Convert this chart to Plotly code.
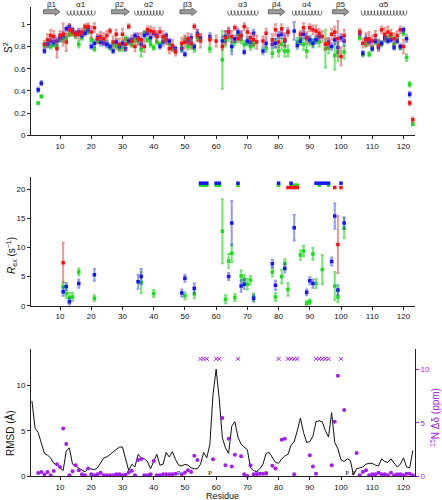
import plotly.graph_objects as go
import numpy as np

# ---------------- data ----------------
tick_res = [10, 20, 30, 40, 50, 60, 70, 80, 90, 100, 110, 120]

# S2 (red / blue / green)
red_s2_res = [5,6,7,8,9,10,11,12,13,14,15,16,17,18,19,20,21,22,23,24,25,26,27,28,29,30,31,32,33,34,35,36,37,38,39,40,41,42,43,44,45,46,47,49,50,51,52,53,54,55,58,60,62,63,64,65,66,67,68,69,70,71,72,73,75,76,78,79,80,81,82,83,87,88,89,90,91,92,93,94,95,96,97,98,99,100,101,106,107,108,109,110,111,112,113,114,115,116,117,118,119,120,122,123]
red_s2 = [0.82,0.86,0.90,0.89,0.78,0.90,0.91,0.84,0.95,0.93,0.91,0.91,0.93,0.98,0.98,0.93,0.97,0.87,0.89,0.87,0.90,0.94,0.84,0.91,0.82,0.91,0.82,0.98,0.85,0.80,0.87,0.86,0.80,0.95,0.94,0.93,0.89,0.93,0.89,0.86,0.78,0.81,0.75,0.83,0.84,0.87,0.83,0.98,0.90,0.85,0.86,0.85,0.80,0.88,0.93,0.89,0.97,0.87,0.90,0.98,0.93,0.88,0.86,0.84,0.85,0.92,0.86,0.95,0.84,0.96,0.86,0.93,0.91,0.97,0.88,0.97,0.95,0.94,0.92,0.89,0.82,0.83,0.91,0.93,0.87,0.71,0.90,0.93,0.83,0.86,0.87,0.85,0.90,0.81,0.95,0.91,0.93,0.91,0.87,0.90,0.95,0.80,0.29,0.14]
red_s2_err = [0.03,0.05,0.05,0.05,0.08,0.04,0.10,0.08,0.05,0.03,0.03,0.04,0.03,0.02,0.03,0.05,0.04,0.04,0.04,0.05,0.04,0.02,0.05,0.04,0.05,0.05,0.05,0.02,0.05,0.04,0.05,0.06,0.05,0.03,0.04,0.04,0.05,0.04,0.05,0.04,0.04,0.05,0.03,0.05,0.06,0.05,0.05,0.02,0.05,0.06,0.03,0.05,0.03,0.06,0.03,0.05,0.02,0.03,0.04,0.03,0.04,0.04,0.05,0.06,0.04,0.04,0.05,0.05,0.05,0.04,0.06,0.04,0.03,0.04,0.05,0.03,0.04,0.05,0.04,0.05,0.05,0.05,0.05,0.05,0.16,0.08,0.05,0.03,0.04,0.06,0.06,0.05,0.04,0.05,0.03,0.06,0.05,0.04,0.05,0.04,0.03,0.06,0.02,0.02]

blue_s2_res = [3,4,5,6,7,8,9,10,11,12,13,14,15,16,17,18,19,20,21,22,23,24,25,26,27,28,29,30,31,32,33,34,35,36,37,38,39,40,41,42,43,44,45,46,47,49,50,51,52,53,54,55,58,62,63,64,65,66,67,68,69,70,71,72,75,76,78,79,80,81,82,83,85,86,87,88,89,90,91,92,93,96,97,98,99,100,101,106,107,108,109,110,111,112,113,114,115,116,117,118,119,120,121,122]
blue_s2 = [0.41,0.47,0.76,0.82,0.85,0.84,0.85,0.88,0.90,0.96,0.98,0.95,0.92,0.93,0.90,0.92,0.95,0.80,0.83,0.88,0.84,0.83,0.82,0.80,0.76,0.84,0.80,0.83,0.78,0.85,0.86,0.90,0.88,0.82,0.90,0.92,0.88,0.92,0.90,0.80,0.84,0.90,0.85,0.80,0.78,0.78,0.73,0.85,0.88,0.80,0.92,0.88,0.89,0.85,0.89,0.93,0.80,0.87,0.93,0.90,0.75,0.85,0.84,0.92,0.76,0.83,0.82,0.83,0.90,0.91,0.85,0.93,0.94,0.81,0.85,0.91,0.88,0.86,0.83,0.86,0.89,0.84,0.80,0.86,0.79,0.88,0.85,0.92,0.74,0.87,0.84,0.78,0.85,0.79,0.83,0.88,0.85,0.86,0.79,0.85,0.80,0.95,0.87,0.37]
blue_s2_err = [0.02,0.02,0.02,0.03,0.03,0.03,0.03,0.03,0.03,0.02,0.02,0.02,0.02,0.03,0.02,0.02,0.02,0.02,0.03,0.02,0.03,0.02,0.03,0.02,0.02,0.02,0.02,0.02,0.02,0.03,0.02,0.02,0.03,0.03,0.03,0.02,0.03,0.02,0.02,0.02,0.03,0.02,0.02,0.02,0.02,0.03,0.02,0.03,0.03,0.02,0.03,0.03,0.03,0.04,0.05,0.04,0.07,0.03,0.03,0.03,0.02,0.03,0.03,0.03,0.03,0.03,0.03,0.04,0.03,0.03,0.05,0.02,0.08,0.03,0.03,0.03,0.03,0.03,0.03,0.03,0.03,0.03,0.03,0.04,0.05,0.03,0.04,0.02,0.02,0.03,0.02,0.02,0.02,0.02,0.02,0.02,0.02,0.02,0.02,0.02,0.02,0.02,0.03,0.02]

green_s2_res = [3,4,5,6,7,8,9,10,11,12,13,14,15,16,17,18,19,20,21,22,23,24,25,26,27,28,29,30,31,32,33,34,35,36,37,38,39,40,41,42,43,44,45,46,49,50,51,52,53,54,58,62,63,64,65,66,67,68,69,70,71,72,76,78,79,80,81,82,83,86,87,88,89,90,91,92,93,95,96,98,99,101,106,107,108,109,110,111,112,113,114,115,116,117,118,119,120,121,122,123]
green_s2 = [0.29,0.35,0.81,0.82,0.80,0.82,0.80,0.86,0.87,0.88,0.91,0.92,0.90,0.82,0.88,0.95,0.93,0.86,0.78,0.85,0.85,0.86,0.82,0.79,0.82,0.80,0.78,0.79,0.87,0.84,0.82,0.86,0.85,0.77,0.92,0.86,0.82,0.79,0.84,0.82,0.86,0.85,0.83,0.78,0.79,0.86,0.80,0.82,0.78,0.88,0.78,0.68,0.85,0.88,0.80,0.84,0.91,0.86,0.82,0.84,0.80,0.82,0.78,0.74,0.83,0.76,0.82,0.76,0.76,0.84,0.87,0.82,0.76,0.85,0.83,0.86,0.84,0.78,0.79,0.72,0.75,0.75,0.88,0.73,0.82,0.73,0.79,0.84,0.84,0.82,0.86,0.88,0.90,0.82,0.86,0.79,0.92,0.70,0.46,0.10]
green_s2_err = [0.01,0.01,0.02,0.02,0.02,0.02,0.02,0.02,0.03,0.03,0.02,0.02,0.02,0.03,0.02,0.02,0.02,0.02,0.02,0.02,0.02,0.02,0.02,0.02,0.02,0.02,0.02,0.03,0.02,0.02,0.02,0.02,0.03,0.06,0.02,0.02,0.02,0.02,0.02,0.02,0.02,0.02,0.02,0.02,0.03,0.03,0.03,0.03,0.03,0.03,0.03,0.26,0.05,0.03,0.04,0.03,0.03,0.03,0.03,0.03,0.03,0.03,0.03,0.04,0.04,0.05,0.05,0.05,0.05,0.04,0.05,0.05,0.06,0.04,0.04,0.03,0.04,0.17,0.05,0.13,0.08,0.06,0.02,0.02,0.02,0.02,0.02,0.02,0.02,0.02,0.02,0.02,0.02,0.02,0.02,0.02,0.02,0.03,0.02,0.01]

# Rex
red_rex_res = [11, 99]
red_rex = [7.4, 10.5]
red_rex_err = [3.4, 4.9]
red_rex_top_res = [83, 84, 85, 86, 98, 100]

blue_rex_res = [11,12,13,16,21,35,36,49,50,53,64,65,68,69,72,78,79,82,85,89,90,91,97,98,99,101]
blue_rex = [2.4,3.3,0.7,3.8,5.3,4.1,5.0,2.2,4.7,3.0,5.0,14.2,3.4,3.7,1.3,7.2,3.5,6.4,13.4,2.3,4.3,3.8,7.6,15.4,2.7,14.2]
blue_rex_err = [0.7,0.6,0.5,0.7,1.0,1.2,1.3,0.6,0.6,0.8,0.6,3.8,1.0,0.8,0.6,0.7,0.8,0.7,2.2,0.5,0.6,0.7,0.7,2.2,0.8,1.0]
blue_rex_top_res = [55,56,57,60,61,67,80,84,92,93,94,95,96,100]

green_rex_res = [11,12,13,14,16,21,36,40,50,53,62,63,64,65,66,68,69,70,71,72,78,79,81,82,83,87,88,89,90,91,92,94,98,99,101]
green_rex = [3.3,2.1,1.4,1.5,5.8,1.3,4.0,2.1,1.7,2.0,12.8,1.1,7.7,9.0,1.4,5.1,4.5,3.7,4.4,1.5,5.8,1.5,5.0,7.3,2.8,8.7,9.4,0.4,0.7,8.9,3.8,6.2,3.4,1.5,13.3]
green_rex_err = [0.8,0.8,0.8,0.7,0.6,0.5,1.8,0.6,0.6,0.7,5.5,0.7,1.2,1.5,0.6,1.0,0.8,0.9,0.7,0.6,0.8,0.7,1.2,0.7,1.1,0.8,0.9,0.4,0.4,1.0,0.8,2.5,2.4,0.9,1.7]
green_rex_top_res = [55,56,57,60,61,67,80,84,85,86,93,96]

# RMSD per residue 1..123
rmsd_res = list(range(1, 124))
rmsd = [8.3,5.3,4.8,3.5,2.5,2.3,2.0,1.4,1.2,0.9,0.6,2.8,3.1,1.3,1.1,0.9,0.7,0.45,0.85,0.8,
        0.7,0.9,1.4,2.0,2.1,2.4,2.7,2.9,3.2,3.2,1.8,0.6,1.3,1.0,2.4,2.0,1.9,1.6,0.8,1.6,
        2.4,1.2,1.3,2.6,2.1,2.7,1.8,1.2,1.1,1.3,1.2,0.9,0.8,0.8,1.3,2.6,2.0,3.5,9.0,11.8,
        8.5,4.2,3.1,2.5,5.5,6.0,4.3,3.5,3.2,2.9,0.9,0.6,0.5,0.8,1.3,2.5,2.6,2.0,1.5,1.4,
        1.9,2.2,2.4,3.4,3.8,5.0,6.4,4.8,3.7,3.8,4.4,6.0,6.1,6.0,5.0,4.3,7.0,3.7,3.0,1.8,
        1.6,1.9,1.7,0.1,0.8,0.9,1.0,1.3,1.4,1.4,1.2,1.1,1.9,1.6,1.5,1.9,1.5,1.0,1.3,2.0,
        1.0,0.9,2.8]

# 15N chemical shift differences
dd_res = [3,4,5,6,7,8,9,10,11,12,13,14,15,16,17,18,19,20,21,22,23,24,25,26,27,28,29,30,31,32,33,34,35,36,37,38,39,40,41,42,43,44,45,46,47,49,50,51,52,53,54,59,62,63,64,65,66,68,69,70,71,72,73,74,75,76,78,79,81,82,85,90,91,92,97,98,99,101,105,106,107,108,109,110,111,112,113,114,115,116,117,118,119,120,121,122,123]
dd = [0.28,0.38,0.15,0.38,0.06,0.47,1.1,0.85,4.45,3.0,0.06,0.44,1.0,0.53,0.16,0.06,0.7,0.16,0.06,0.16,0.3,0.06,0.06,0.06,0.06,0.16,0.16,0.06,0.12,0.34,0.5,0.06,1.5,1.6,0.06,0.06,0.16,1.4,0.06,0.06,0.16,0.16,0.16,0.16,0.22,0.16,0.3,0.53,0.38,1.9,1.5,1.57,5.45,1.0,3.5,0.9,2.0,1.85,0.16,0.0,1.0,0.16,0.16,0.2,0.2,0.2,0.97,0.7,3.4,3.5,0.16,1.95,0.9,0.22,1.0,5.1,9.4,6.2,2.15,0.06,0.38,0.53,0.06,0.16,0.16,0.3,0.16,0.16,0.06,0.3,0.06,0.16,0.16,0.06,0.2,0.22,0.06]
dd_broad_res = [55,56,57,60,61,67,80,83,84,85,86,92,93,94,95,96,100]
pro_res = [48, 58, 73, 76, 102, 104]

# secondary structure
strand_names = ["β1", "β2", "β3", "β4", "β5"]
strand_start = [4.7, 26.5, 48.4, 76.7, 97.3]
strand_end = [10.0, 32.2, 53.8, 82.1, 102.6]
helix_names = ["α1", "α2", "α3", "α4", "α5"]
helix_start = [12.3, 34.0, 63.8, 84.5, 106.6]
helix_end = [21.2, 43.0, 73.4, 93.8, 121.0]

# ---------------- style ----------------
RED, BLUE, GREEN, PURPLE = "#ff1010", "#1414ff", "#16e016", "#a51cf2"
RED_E, BLUE_E, GREEN_E = "rgba(215,70,70,0.55)", "rgba(60,70,235,0.55)", "rgba(40,215,40,0.65)"
FONT = "Liberation Sans, Arial, Helvetica, sans-serif"
XR = [0.7, 123.7]
TOP_RX, TOP_G, TOP_B = 20.3, 20.7, 21.05

fig = go.Figure()

def err_trace(x, y, e, col, ecol, xa, ya, size=3.5):
    return go.Scatter(x=x, y=y, mode="markers", xaxis=xa, yaxis=ya,
                      marker=dict(symbol="square", size=size, color=col, line=dict(width=0)),
                      error_y=dict(type="data", array=e, visible=True, color=ecol, thickness=2, width=1.5),
                      showlegend=False, hoverinfo="skip")

# top panel
fig.add_trace(err_trace(green_s2_res, green_s2, green_s2_err, GREEN, GREEN_E, "x", "y"))
fig.add_trace(err_trace(blue_s2_res, blue_s2, blue_s2_err, BLUE, BLUE_E, "x", "y"))
fig.add_trace(err_trace(red_s2_res, red_s2, red_s2_err, RED, RED_E, "x", "y"))

# secondary structure: strands as block arrows
ycen, sh, hh = 1.113, 0.018, 0.034
shapes = []
for s, e in zip(strand_start, strand_end):
    hl = 1.6
    path = (f"M {s},{ycen-sh} L {e-hl},{ycen-sh} L {e-hl},{ycen-hh} L {e},{ycen} "
            f"L {e-hl},{ycen+hh} L {e-hl},{ycen+sh} L {s},{ycen+sh} Z")
    shapes.append(dict(type="path", xref="x", yref="y", path=path,
                       fillcolor="#9a9a9a", line=dict(color="#555555", width=0.8)))
# helices as coils
for s, e in zip(helix_start, helix_end):
    n = int(round((e - s) / 1.05))
    t = np.linspace(0, 2 * np.pi * n, 60 * n)
    hx = s + (e - s) * t / (2 * np.pi * n) - 0.33 * np.sin(t)
    hy = 1.102 + 0.022 * np.cos(t)
    fig.add_trace(go.Scatter(x=hx, y=hy, mode="lines", xaxis="x", yaxis="y",
                             line=dict(color="#444444", width=0.8), showlegend=False, hoverinfo="skip"))

H_T, H_B = 7, 24
PH = 500 - H_T - H_B
L_M, PW = 31, 442 - 31 - 27

annotations = []
for name, s, e in zip(strand_names + helix_names, strand_start + helix_start, strand_end + helix_end):
    annotations.append(dict(x=(s + e) / 2, y=(500 - H_B - 5) / PH, xref="x", yref="paper", text=name,
                            showarrow=False, font=dict(size=8, family=FONT, color="#222"),
                            yanchor="middle"))

# middle panel
fig.add_trace(err_trace(green_rex_res, green_rex, green_rex_err, GREEN, GREEN_E, "x2", "y2"))
fig.add_trace(err_trace(blue_rex_res, blue_rex, blue_rex_err, BLUE, BLUE_E, "x2", "y2"))
fig.add_trace(err_trace(red_rex_res, red_rex, red_rex_err, RED, RED_E, "x2", "y2"))
for res, yv, col in [(green_rex_top_res, TOP_G, GREEN), (blue_rex_top_res, TOP_B, BLUE), (red_rex_top_res, TOP_RX, RED)]:
    fig.add_trace(go.Scatter(x=res, y=[yv] * len(res), mode="markers", xaxis="x2", yaxis="y2",
                             marker=dict(symbol="square", size=3.5, color=col),
                             showlegend=False, hoverinfo="skip", cliponaxis=False))

# bottom panel
fig.add_trace(go.Scatter(x=rmsd_res, y=rmsd, mode="lines", xaxis="x3", yaxis="y3",
                         line=dict(color="#111111", width=1), showlegend=False, hoverinfo="skip"))
fig.add_trace(go.Scatter(x=pro_res, y=[0.25] * len(pro_res), mode="text", text=["P"] * len(pro_res),
                         textposition="middle center", xaxis="x3", yaxis="y3",
                         textfont=dict(size=7, family="Liberation Serif, serif", color="#111"),
                         showlegend=False, hoverinfo="skip"))
fig.add_trace(go.Scatter(x=dd_res, y=dd, mode="markers", xaxis="x3", yaxis="y4",
                         marker=dict(symbol="circle", size=4, color=PURPLE),
                         showlegend=False, hoverinfo="skip", cliponaxis=False))
fig.add_trace(go.Scatter(x=dd_broad_res, y=[11] * len(dd_broad_res), mode="markers", xaxis="x3", yaxis="y4",
                         marker=dict(symbol="x-thin", size=4, color=PURPLE, line=dict(width=1, color=PURPLE)),
                         showlegend=False, hoverinfo="skip"))

# axis titles (positions given in picture pixels, converted to paper coords)
titles = [
    dict(text="S<sup>2</sup>", x=8, y=48, size=10),
    dict(text="<i>R</i><sub>ex</sub> (s<sup>−1</sup>)", x=12, y=256, size=10),
    dict(text="RMSD (Å)", x=10, y=433, size=10),
    dict(text="<sup>15</sup>N Δδ (ppm)", x=435, y=418, size=10),
    dict(text="Residue", x=222, y=495.5, size=9),
]
for a in titles:
    px, py, sz = a.pop("x"), a.pop("y"), a.pop("size")
    a.update(xref="paper", yref="paper", x=(px - L_M) / PW, y=(500 - H_B - py) / PH,
             xanchor="center", yanchor="middle", showarrow=False,
             font=dict(size=sz, family=FONT, color=PURPLE if "Δδ" in a["text"] else "#111"))
    if "Residue" not in a["text"]:
        a["textangle"] = -90
    annotations.append(a)

def xax(anchor):
    return dict(domain=[0, 1], anchor=anchor, range=XR, tickvals=tick_res, ticks="outside",
                ticklen=3, tickwidth=1, tickcolor="#222", showline=True, linecolor="#222", linewidth=1,
                showgrid=False, zeroline=False, automargin=False,
                tickfont=dict(size=8, family=FONT, color="#111"))

def yax(domain, rng, tv, tt, anchor):
    return dict(domain=domain, range=rng, tickvals=tv, ticktext=tt, anchor=anchor, ticks="outside",
                ticklen=3, tickwidth=1, tickcolor="#222", showline=True, linecolor="#222", linewidth=1,
                showgrid=False, zeroline=False, automargin=False,
                tickfont=dict(size=8, family=FONT, color="#111"))

def dom(top_px, bot_px):
    return [(500 - H_B - bot_px) / PH, (500 - H_B - top_px) / PH]

fig.update_layout(
    width=442, height=500, margin=dict(l=L_M, r=27, t=H_T, b=H_B),
    plot_bgcolor="white", paper_bgcolor="white", showlegend=False,
    font=dict(family=FONT),
    xaxis=xax("y"), xaxis2=xax("y2"), xaxis3=xax("y3"),
    yaxis=yax(dom(7, 135.3), [0, 1.156], [0, 0.2, 0.4, 0.6, 0.8, 1], ["0", "0.2", "0.4", "0.6", "0.8", "1"], "x"),
    yaxis2=yax(dom(177.3, 305.7), [0, 22.06], [0, 5, 10, 15, 20], ["0", "5", "10", "15", "20"], "x2"),
    yaxis3=yax(dom(349, 476), [0, 14.03], [0, 5, 10], ["0", "5", "10"], "x3"),
    yaxis4=dict(domain=dom(349, 476), range=[0, 11.92], tickvals=[0, 5, 10], overlaying="y3", side="right",
                anchor="x3", ticks="outside", ticklen=3, tickcolor=PURPLE, showline=True, linecolor="#222",
                linewidth=1, showgrid=False, zeroline=False, automargin=False,
                tickfont=dict(size=8, family=FONT, color=PURPLE)),
    shapes=shapes, annotations=annotations,
)

fig.write_html("out.html", config={"displayModeBar": False, "staticPlot": True},
               post_script="document.body.style.margin='0';document.body.style.overflow='hidden';")
